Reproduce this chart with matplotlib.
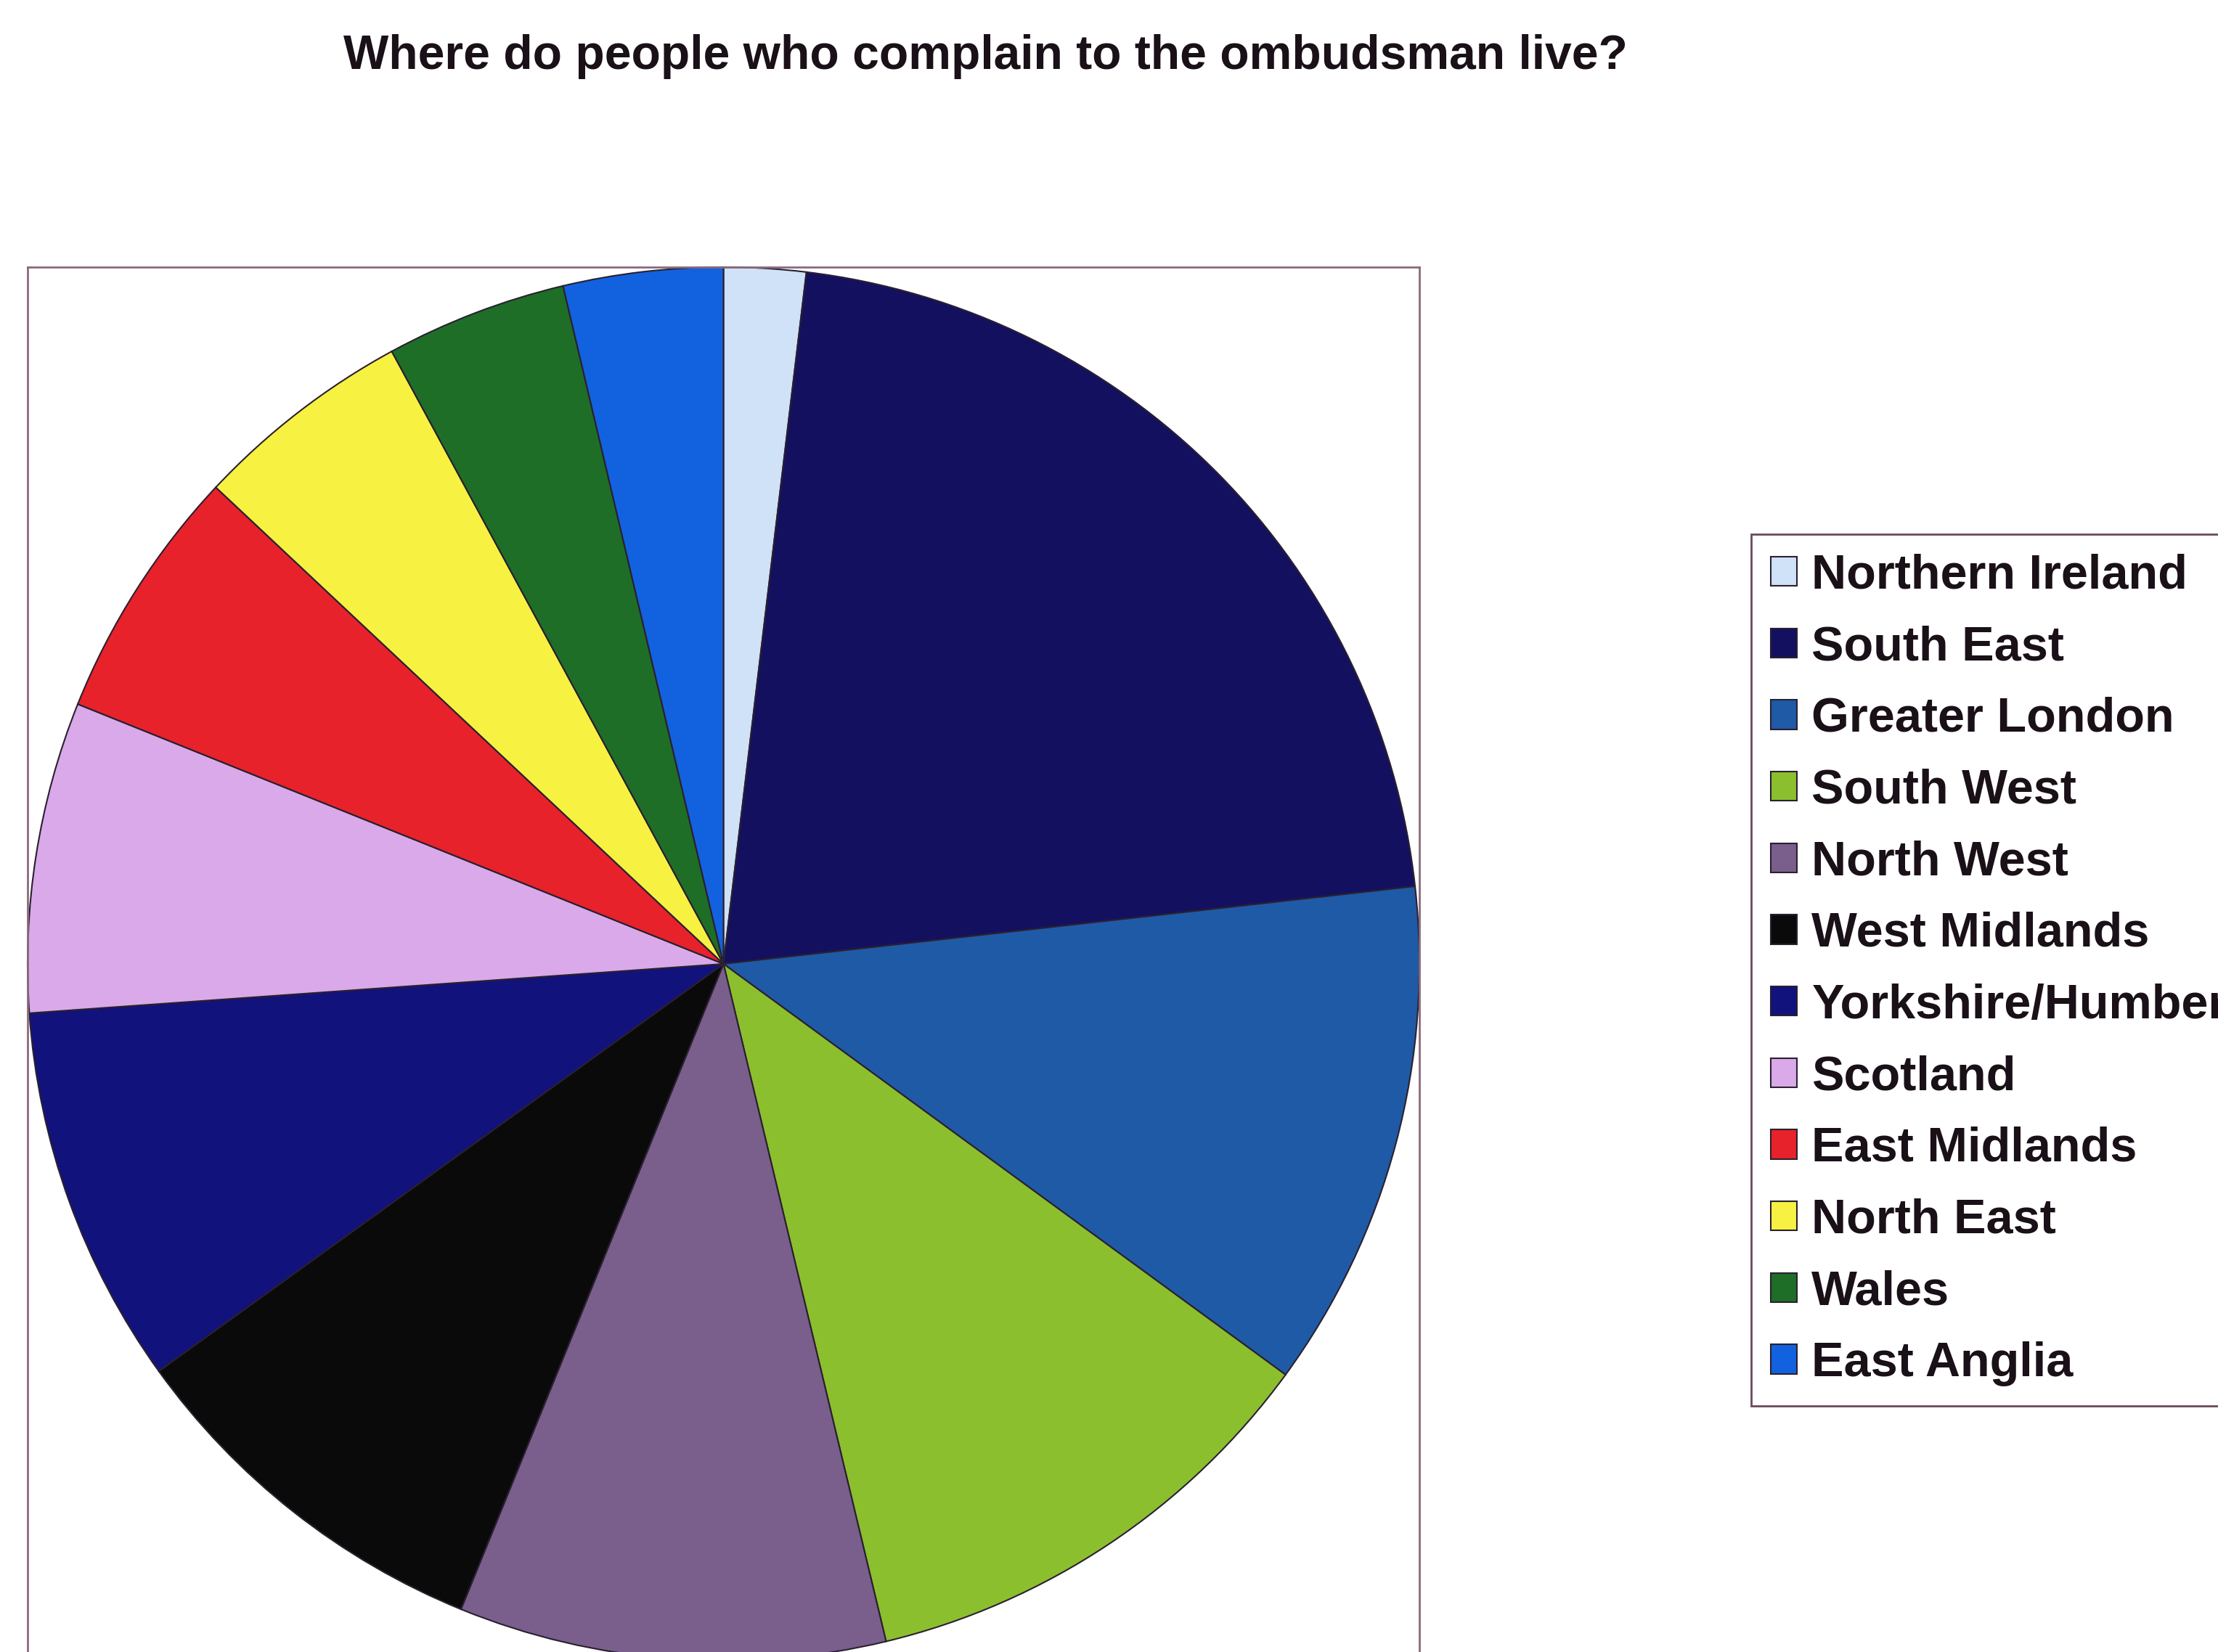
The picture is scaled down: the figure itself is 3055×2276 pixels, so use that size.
import matplotlib.pyplot as plt

plt.rcParams['font.family'] = ['Liberation Sans', 'DejaVu Sans']

# Regions and their share of complaints (%), read clockwise from 12 o'clock
regions = ['Northern Ireland', 'South East', 'Greater London', 'South West',
           'North West', 'West Midlands', 'Yorkshire/Humber', 'Scotland',
           'East Midlands', 'North East', 'Wales', 'East Anglia']
shares = [1.9, 21.3, 11.8, 11.2, 9.9, 8.9, 8.8, 7.2, 5.9, 5.1, 4.2, 3.7]
colours = ['#cfe2f7', '#141060', '#1f5aa6', '#8bbf2e', '#7a5e8c', '#0a0a0a',
           '#12127c', '#d9a9e9', '#e8222b', '#f7f242', '#1e6e27', '#1262e0']

W, H = 3055, 2276
fig = plt.figure(figsize=(W / 100, H / 100), dpi=100)

# axes box matches the drawn frame round the pie (runs off the bottom)
left, top, right, bottom = 38, 368, 1955, 2288
ax = fig.add_axes([left / W, 1 - bottom / H, (right - left) / W, (bottom - top) / H])
wedges, _ = ax.pie(shares, colors=colours, startangle=90, counterclock=False,
                   radius=1.0, wedgeprops=dict(edgecolor='#2a2030', linewidth=1.5))
ax.set_aspect('auto')
ax.set_xlim(-1, 1)
ax.set_ylim(-1, 1)
ax.set_frame_on(True)
ax.set_xticks([])
ax.set_yticks([])
for s in ax.spines.values():
    s.set_color('#8a6a7c')
    s.set_linewidth(2)

fig.text(1357 / W, 1 - 78 / H, 'Where do people who complain to the ombudsman live?',
         ha='center', va='center', fontsize=47.5, fontweight='bold', color='#1a1018')

# legend runs off the right edge, as in the original (Yorkshire/Humber clipped)
leg = fig.legend(wedges, regions, loc='upper left',
                 bbox_to_anchor=(2412 / W, 1 - 736 / H), borderaxespad=0,
                 prop=dict(size=48, weight='bold'), handlelength=0.55,
                 handleheight=0.55, handletextpad=0.3, labelspacing=0.55,
                 borderpad=0.4, fancybox=False, framealpha=1)
leg.get_frame().set_edgecolor('#6a4a5c')
leg.get_frame().set_linewidth(2)
for t in leg.get_texts():
    t.set_color('#1a1018')

fig.savefig('out.png', dpi=100)
